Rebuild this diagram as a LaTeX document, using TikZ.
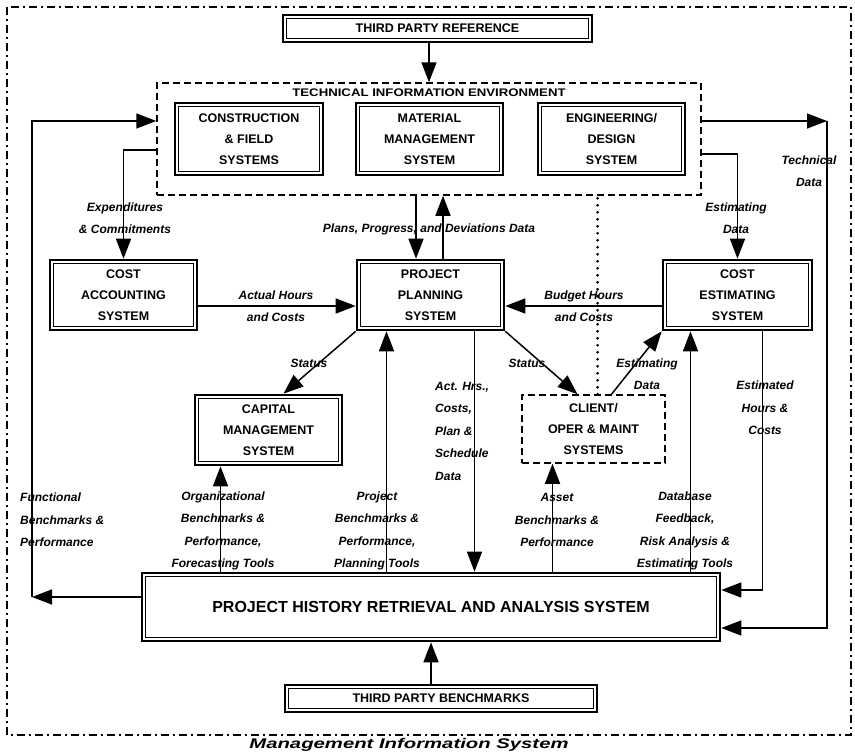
\documentclass[tikz,border=0pt]{standalone}
\usepackage{fontspec}
\setmainfont{Liberation Sans}
\newfontfamily\widefont[FakeStretch=1.2]{Liberation Sans}
\newfontfamily\capfont[FakeStretch=1.45]{Liberation Sans}
\usetikzlibrary{arrows.meta}
\begin{document}
\begin{tikzpicture}[x=1pt,y=-1pt,
  box/.style={draw, line width=2.6pt, inner sep=0pt, align=center, font=\fontsize{12.5}{21}\selectfont\bfseries,
    path picture={\draw[line width=0.8pt] ([shift={(3.6pt,-3.6pt)}]path picture bounding box.north west) rectangle ([shift={(-3.6pt,3.6pt)}]path picture bounding box.south east);}},
  dbox/.style={draw, dash pattern=on 7pt off 4pt, line width=1.5pt, inner sep=0pt, align=center, font=\fontsize{12.5}{21}\selectfont\bfseries},
  lbl/.style={font=\fontsize{12}{22.5}\selectfont\bfseries\itshape, align=center, inner sep=0pt},
  arr/.style={line width=1.5pt, -{Triangle[length=20pt,width=15pt]}},
  dotline/.style={line width=3pt, line cap=round, dash pattern=on 0pt off 7pt},
  outerline/.style={line width=1.3pt, dash pattern=on 8pt off 4pt on 2pt off 4pt}
]
\useasboundingbox (0,0) rectangle (855,755);
\draw[outerline] (7,7) rectangle (851,735);

% boxes
\node[box, minimum width=309pt, minimum height=27pt] (tpr) at (437.5,28.5) {THIRD PARTY REFERENCE};
\node[dbox, minimum width=544pt, minimum height=112pt] (tie) at (429,139) {};
\node[font=\widefont\fontsize{11}{13}\selectfont\bfseries, inner sep=0pt] (tiet) at (429,93) {TECHNICAL INFORMATION ENVIRONMENT};
\node[box, minimum width=148pt, minimum height=72pt] (cfs) at (249,139) {CONSTRUCTION\\\& FIELD\\SYSTEMS};
\node[box, minimum width=147pt, minimum height=72pt] (mms) at (429.5,139) {MATERIAL\\MANAGEMENT\\SYSTEM};
\node[box, minimum width=147pt, minimum height=72pt] (eds) at (611.5,139) {ENGINEERING/\\DESIGN\\SYSTEM};
\node[box, minimum width=147pt, minimum height=70pt] (cas) at (123.5,295) {COST\\ACCOUNTING\\SYSTEM};
\node[box, minimum width=147pt, minimum height=70pt] (pps) at (430.5,295) {PROJECT\\PLANNING\\SYSTEM};
\node[box, minimum width=149pt, minimum height=70pt] (ces) at (737.5,295) {COST\\ESTIMATING\\SYSTEM};
\node[box, minimum width=147pt, minimum height=70pt] (cms) at (268.5,430) {CAPITAL\\MANAGEMENT\\SYSTEM};
\node[dbox, minimum width=143pt, minimum height=68pt] (cli) at (593.5,429) {CLIENT/\\OPER \& MAINT\\SYSTEMS};
\node[box, minimum width=578pt, minimum height=68pt, font=\fontsize{16}{18}\selectfont\bfseries] (phr) at (431,607) {PROJECT HISTORY RETRIEVAL AND ANALYSIS SYSTEM};
\node[box, minimum width=312pt, minimum height=27pt] (tpb) at (441,698.5) {THIRD PARTY BENCHMARKS};

% connectors
\coordinate (fL) at (32,597);
\coordinate (rT) at (827,121);
\draw[arr] ([yshift=10pt]phr.west) -- (fL);
\coordinate (tieA) at ([yshift=18pt]tie.west);
\draw[arr] (fL) |- (tieA);
\draw[arr] ([yshift=-11pt]tie.west) -| (cas.north);
\draw[arr] (tpr.south -| tie.north) -- (tie.north);
\coordinate (pd) at ([xshift=-13pt]tie.south);
\draw[arr] (pd) -- (pd |- pps.north);
\coordinate (pu) at ([xshift=12.5pt]pps.north);
\draw[arr] (pu) -- (pu |- tie.south);
\draw[arr] ([yshift=-11pt]cas.east) -- ([yshift=-11pt]pps.west);
\draw[arr] ([yshift=-11pt]ces.west) -- ([yshift=-11pt]pps.east);
\coordinate (dq) at ([xshift=4pt]cli.north);
\draw[dotline] (dq) -- (dq |- tie.south);
\draw[arr] ([yshift=18pt]tie.east) -- (rT);
\draw[arr] (rT) |- ([yshift=-21pt]phr.east);
\draw[arr] ([yshift=-15pt]tie.east) -| (ces.north);
\draw[arr] ([xshift=25pt]ces.south) |- ([yshift=17pt]phr.east);
\draw[arr] (pps.south west) -- ([xshift=15pt]cms.north);
\draw[arr] (pps.south east) -- ([xshift=-16pt]cli.north);
\draw[arr] ([xshift=18pt]cli.north) -- (ces.south west);
\coordinate (u1) at ([xshift=-48pt]cms.south);
\draw[arr] (u1 |- phr.north) -- (u1);
\coordinate (u2) at ([xshift=-44pt]pps.south);
\draw[arr] (u2 |- phr.north) -- (u2);
\coordinate (d1) at ([xshift=44pt]pps.south);
\draw[arr] (d1) -- (d1 |- phr.north);
\coordinate (u3) at ([xshift=-41pt]cli.south);
\draw[arr] (u3 |- phr.north) -- (u3);
\coordinate (u4) at ([xshift=-47pt]ces.south);
\draw[arr] (u4 |- phr.north) -- (u4);
\draw[arr] (tpb.north -| phr.south) -- (phr.south);

% labels
\node[lbl] (l1) at (125,218) {Expenditures\\\& Commitments};
\node[lbl] (l2) at (429,229) {Plans, Progress, and Deviations Data};
\node[lbl] (l3) at (276,306) {Actual Hours\\and Costs};
\node[lbl] (l4) at (584,306) {Budget Hours\\and Costs};
\node[lbl] (l5) at (736,218) {Estimating\\Data};
\node[lbl] (l6) at (809,171) {Technical\\Data};
\node[lbl] (l7) at (309,363) {Status};
\node[lbl] (l8) at (527,363) {Status};
\node[lbl] (l9) at (647,374) {Estimating\\Data};
\node[lbl, align=left, anchor=west] (l10) at (435,431) {Act. Hrs.,\\Costs,\\Plan \&\\Schedule\\Data};
\node[lbl] (l11) at (765,408) {Estimated\\Hours \&\\Costs};
\node[lbl, align=left, anchor=west] (l12) at (20,520) {Functional\\Benchmarks \&\\Performance};
\node[lbl] (l13) at (223,531) {Organizational\\Benchmarks \&\\Performance,\\Forecasting Tools};
\node[lbl] (l14) at (377,531) {Project\\Benchmarks \&\\Performance,\\Planning Tools};
\node[lbl] (l15) at (557,520) {Asset\\Benchmarks \&\\Performance};
\node[lbl] (l16) at (685,531) {Database\\Feedback,\\Risk Analysis \&\\Estimating Tools};
\node[font=\capfont\fontsize{14}{16}\selectfont\bfseries\itshape, inner sep=0pt] (cap) at (409,745) {Management Information System};
\end{tikzpicture}
\end{document}
